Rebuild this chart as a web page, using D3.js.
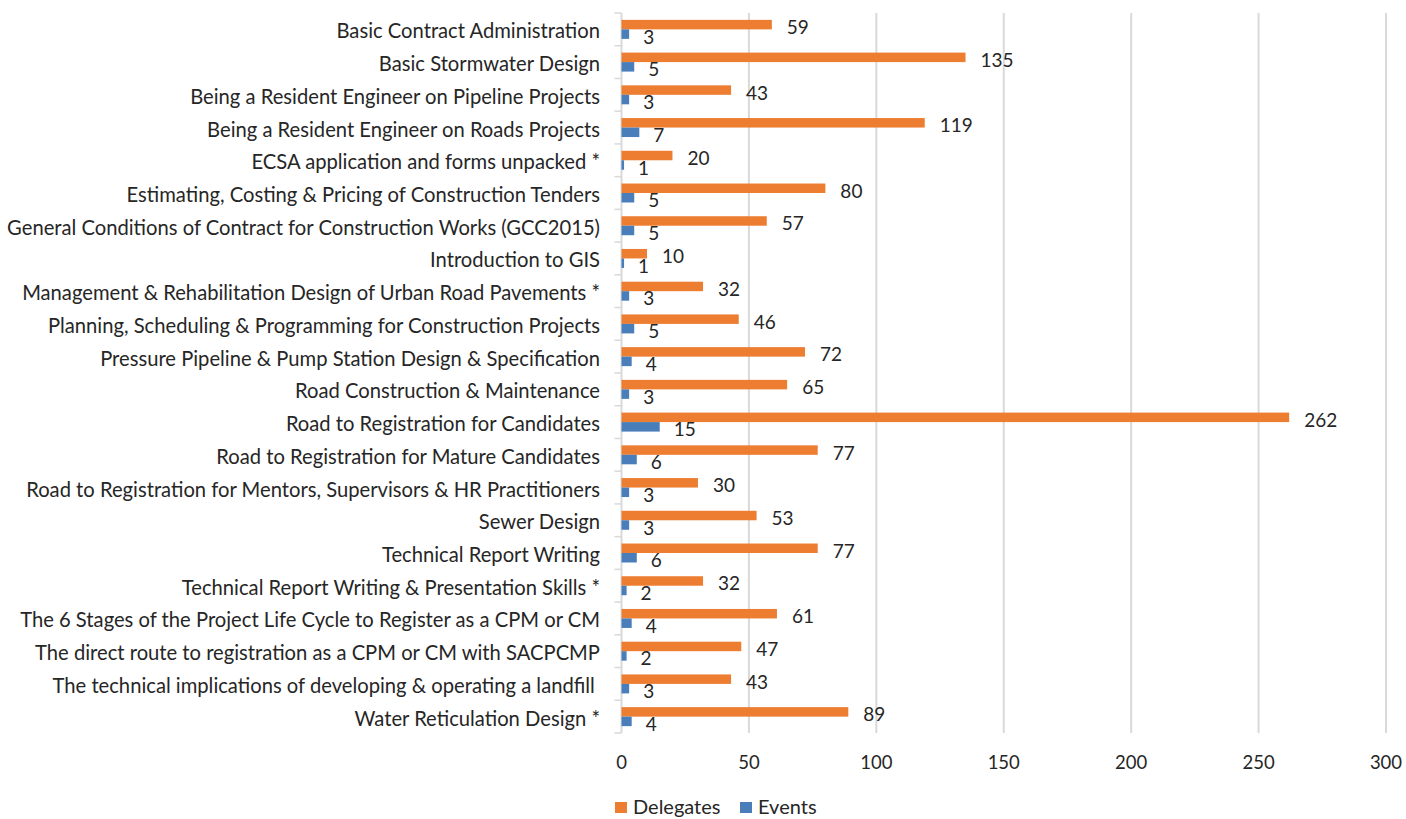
<!DOCTYPE html>
<html><head><meta charset="utf-8">
<script src="https://cdn.jsdelivr.net/npm/d3@7"></script>
<style>
html,body{margin:0;padding:0;background:#fff;}
svg{display:block;}
text{font-family:Lato,"Open Sans",sans-serif;fill:#262626;}
</style></head>
<body>
<svg id="chart" width="1406" height="819"></svg>
<script>
const categories = [
  "Basic Contract Administration",
  "Basic Stormwater Design",
  "Being a Resident Engineer on Pipeline Projects",
  "Being a Resident Engineer on Roads Projects",
  "ECSA application and forms unpacked *",
  "Estimating, Costing & Pricing of Construction Tenders",
  "General Conditions of Contract for Construction Works (GCC2015)",
  "Introduction to GIS",
  "Management & Rehabilitation Design of Urban Road Pavements *",
  "Planning, Scheduling & Programming for Construction Projects",
  "Pressure Pipeline & Pump Station Design & Specification",
  "Road Construction & Maintenance",
  "Road to Registration for Candidates",
  "Road to Registration for Mature Candidates",
  "Road to Registration for Mentors, Supervisors & HR Practitioners",
  "Sewer Design",
  "Technical Report Writing",
  "Technical Report Writing & Presentation Skills *",
  "The 6 Stages of the Project Life Cycle to Register as a CPM or CM",
  "The direct route to registration as a CPM or CM with SACPCMP",
  "The technical implications of developing & operating a landfill ",
  "Water Reticulation Design *"
];
const delegates = [59,135,43,119,20,80,57,10,32,46,72,65,262,77,30,53,77,32,61,47,43,89];
const events = [3,5,3,7,1,5,5,1,3,5,4,3,15,6,3,3,6,2,4,2,3,4];
const seriesNames = ["Delegates","Events"];
const seriesColors = ["#ED7D31","#4A7EBB"];
const xTicks = [0,50,100,150,200,250,300];

const svg = d3.select("#chart");
const pLeft = 621.5, pRight = 1386, pTop = 13, pBottom = 733;

const x = d3.scaleLinear().domain([0,300]).range([pLeft,pRight]);
const y = d3.scaleBand().domain(categories).range([pTop,pBottom]).paddingInner(0.42).paddingOuter(0.21);
const sub = d3.scaleBand().domain(seriesNames).range([0,y.bandwidth()]);

// gridlines
svg.append("g").selectAll("line").data(xTicks.filter(d=>d>0)).join("line")
  .attr("x1",d=>x(d)).attr("x2",d=>x(d)).attr("y1",pTop).attr("y2",pBottom)
  .attr("stroke","#d9d9d9").attr("stroke-width",2);

// y axis line and category ticks
const ax = svg.append("g");
ax.append("line").attr("x1",pLeft).attr("x2",pLeft).attr("y1",pTop).attr("y2",pBottom)
  .attr("stroke","#d9d9d9").attr("stroke-width",2);
const bounds = d3.range(categories.length+1).map(i=>pTop + i*y.step());
ax.selectAll("line.t").data(bounds).join("line").attr("class","t")
  .attr("x1",pLeft-7).attr("x2",pLeft).attr("y1",d=>d).attr("y2",d=>d)
  .attr("stroke","#d9d9d9").attr("stroke-width",1.5);

// category labels
svg.append("g").selectAll("text").data(categories).join("text")
  .attr("x",600).attr("y",d=>y(d)+y.bandwidth()/2 + 1)
  .attr("text-anchor","end").attr("dominant-baseline","central")
  .style("font-size","20.2px").style("white-space","pre").text(d=>d);

// bars
const data = categories.map((c,i)=>({c, vals:[delegates[i],events[i]]}));
const rowG = svg.append("g").selectAll("g").data(data).join("g")
  .attr("transform",d=>`translate(0,${y(d.c)})`);
seriesNames.forEach((s,si)=>{
  rowG.append("rect")
    .attr("x",x(0)).attr("y",sub(s)).attr("width",d=>x(d.vals[si])-x(0))
    .attr("height",sub.bandwidth()).attr("fill",seriesColors[si]);
  rowG.append("text")
    .attr("x",d=>x(d.vals[si]) + (si===0?15:14)).attr("y",sub(s)+sub.bandwidth()/2+2)
    .attr("dominant-baseline","central").style("font-size","19px")
    .text(d=>d.vals[si]);
});

// x tick labels
svg.append("g").selectAll("text").data(xTicks).join("text")
  .attr("x",d=>x(d)).attr("y",762).attr("text-anchor","middle")
  .attr("dominant-baseline","central").style("font-size","18.5px").text(d=>d);

// legend
const lg = svg.append("g");
const legX = [615, 740];
seriesNames.forEach((s,i)=>{
  lg.append("rect").attr("x",legX[i]).attr("y",802).attr("width",12).attr("height",11).attr("fill",seriesColors[i]);
  lg.append("text").attr("x",legX[i]+18).attr("y",814)
    .style("font-size","20px").text(s);
});
</script>
</body></html>
